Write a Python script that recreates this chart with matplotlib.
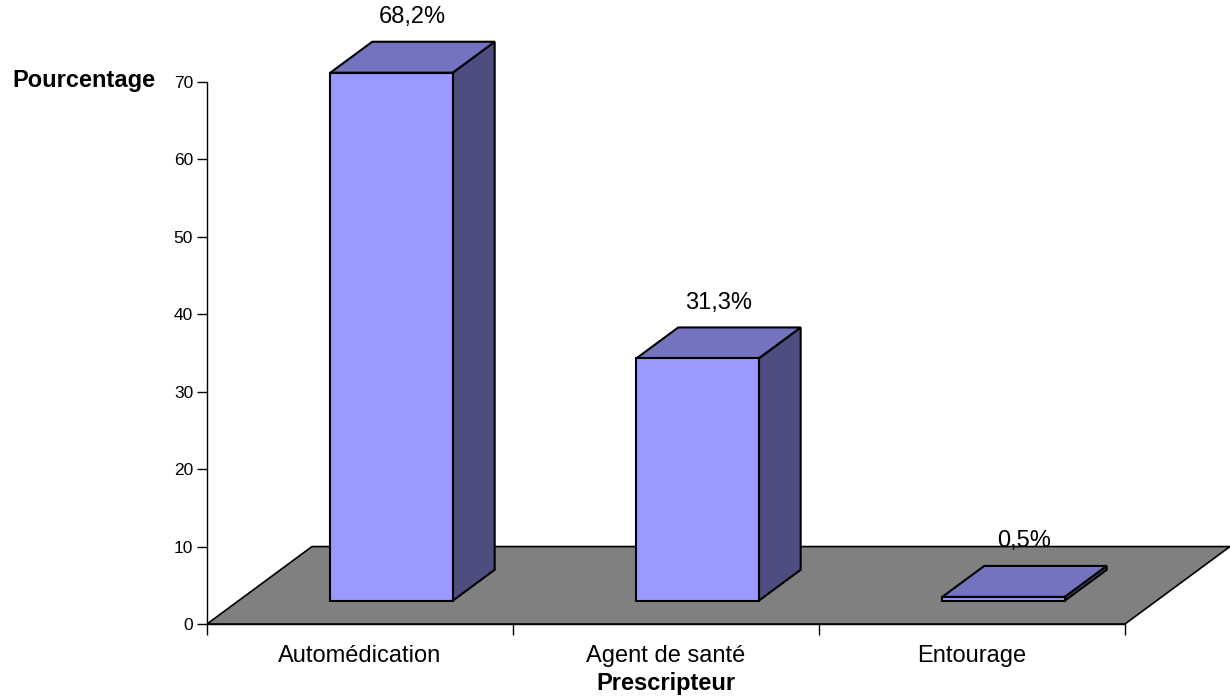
import matplotlib
matplotlib.use("Agg")
import matplotlib.pyplot as plt
from matplotlib.transforms import blended_transform_factory

plt.rcParams['font.family'] = ['Liberation Sans', 'DejaVu Sans']

# Data
categories = ["Automédication", "Agent de santé", "Entourage"]
values = [68.2, 31.3, 0.5]
value_labels = ["68,2%", "31,3%", "0,5%"]
y_ticks = [0, 10, 20, 30, 40, 50, 60, 70]

# Styling
FRONT = "#9999FF"
TOP = "#7373BF"
SIDE = "#4D4D80"
FLOOR = "#808080"

W, H = 1230, 699
fig = plt.figure(figsize=(W / 100, H / 100), dpi=100)
ax = fig.add_axes([207 / W, (H - 624) / H, 918 / W, 542 / H])
ax.set_xlim(0, len(categories))
ax.set_ylim(0, 70)

# Oblique depth of the floor (category units, value units)
DX, DY = 0.343, 10.0
BAR_W = 0.4
D0, D1 = 0.3, 0.7   # bar depth span as fraction of floor depth

n = len(categories)
# floor
ax.fill([0, n, n + DX, DX], [0, 0, DY, DY], facecolor=FLOOR,
        edgecolor="black", linewidth=1.2, clip_on=False, zorder=1)

for i, v in enumerate(values):
    c = i + 0.5
    x0 = c - BAR_W / 2 + D0 * DX
    x1 = c + BAR_W / 2 + D0 * DX
    y0 = D0 * DY
    y1 = y0 + v
    ddx = (D1 - D0) * DX
    ddy = (D1 - D0) * DY
    kw = dict(edgecolor="black", linewidth=1.5, clip_on=False, zorder=3,
              joinstyle="miter")
    # side
    ax.fill([x1, x1 + ddx, x1 + ddx, x1], [y0, y0 + ddy, y1 + ddy, y1],
            facecolor=SIDE, **kw)
    # top
    ax.fill([x0, x1, x1 + ddx, x0 + ddx], [y1, y1, y1 + ddy, y1 + ddy],
            facecolor=TOP, **kw)
    # front
    ax.fill([x0, x1, x1, x0], [y0, y0, y1, y1], facecolor=FRONT, **kw)
    # value label
    ax.text(c + 0.5 * DX, v + 10.2, value_labels[i], ha="center",
            va="center", fontsize=17, color="black", clip_on=False, zorder=4)

# Axes styling
for s in ("top", "right"):
    ax.spines[s].set_visible(False)
for s in ("left", "bottom"):
    ax.spines[s].set_linewidth(1.0)
    ax.spines[s].set_color("black")
    ax.spines[s].set_zorder(0.5)

ax.set_yticks(y_ticks)
ax.set_yticklabels([str(t) for t in y_ticks])
ax.tick_params(axis="y", direction="out", length=7, width=1, pad=3,
               labelsize=12.5)
ax.set_xticks(range(n + 1))
ax.set_xticklabels([])
ax.tick_params(axis="x", direction="out", length=8, width=1)

# Category labels
trans = blended_transform_factory(ax.transData, fig.transFigure)
for i, cat in enumerate(categories):
    ax.text(i + 0.5, (H - 662) / H, cat, transform=trans, ha="center",
            va="baseline", fontsize=17)

fig.text(156 / W, (H - 87) / H, "Pourcentage", ha="right", va="baseline",
         fontsize=17, fontweight="bold")
ax.text(1.5, (H - 690) / H, "Prescripteur", transform=trans, ha="center",
        va="baseline", fontsize=17, fontweight="bold")

fig.savefig("out.png", dpi=100)
